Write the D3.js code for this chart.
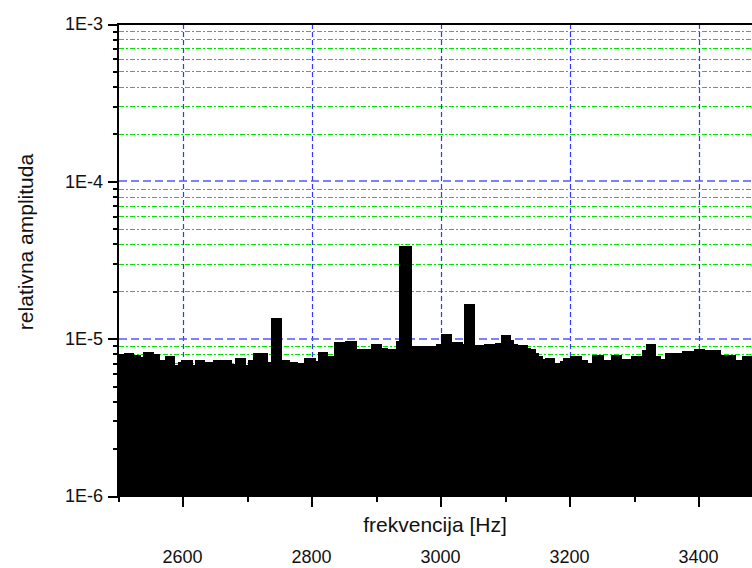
<!DOCTYPE html>
<html>
<head>
<meta charset="utf-8">
<script src="https://cdn.jsdelivr.net/npm/d3@7"></script>
<style>
  html, body { margin: 0; padding: 0; background: #fff; }
  svg { display: block; font-family: "Liberation Sans", Arial, sans-serif; }
</style>
</head>
<body>
<svg id="chart" width="752" height="568"></svg>
<script>
// ---- data ----
// start frequency of each spectrum step [Hz]; each step runs to the next start
const freqStart = [2500, 2509, 2525, 2536, 2539, 2556, 2565, 2573, 2588, 2593, 2598, 2616, 2619, 2635, 2647,
  2677, 2681, 2698, 2702, 2709, 2733, 2737, 2754, 2767, 2779, 2788, 2807, 2810, 2826, 2835, 2852, 2871,
  2892, 2909, 2919, 2931, 2936, 2956, 2993, 3001, 3018, 3035, 3036, 3053, 3067, 3084, 3094, 3109, 3114,
  3120, 3136, 3140, 3148, 3153, 3159, 3162, 3178, 3185, 3190, 3201, 3219, 3229, 3235, 3253, 3264, 3281,
  3295, 3312, 3319, 3334, 3342, 3348, 3374, 3393, 3410, 3435, 3458, 3467];
// relative amplitude of each step (×1e-5)
const amplitudeE5 = [0.803, 0.815, 0.791, 0.768, 0.827, 0.803, 0.735, 0.780, 0.684, 0.714, 0.735, 0.684, 0.735, 0.714, 0.735,
  0.694, 0.757, 0.684, 0.735, 0.815, 0.714, 1.36, 0.735, 0.714, 0.704, 0.757, 0.725, 0.827, 0.780, 0.957, 0.971, 0.864,
  0.929, 0.877, 0.864, 0.971, 3.88, 0.903, 0.929, 1.076, 0.957, 0.929, 1.67, 0.916, 0.929, 0.943, 1.060, 0.986, 0.929,
  0.916, 0.877, 0.864, 0.815, 0.780, 0.746, 0.757, 0.704, 0.725, 0.757, 0.780, 0.735, 0.704, 0.791, 0.735, 0.791, 0.746,
  0.780, 0.851, 0.929, 0.780, 0.746, 0.815, 0.839, 0.864, 0.851, 0.791, 0.735, 0.780];
const freqEnd = 3500;

const xMajorTicks = [2600, 2800, 3000, 3200, 3400];
const xMinorTicks = [2500, 2700, 2900, 3100, 3300, 3500];
const yMajorTicks = [1e-6, 1e-5, 1e-4, 1e-3];
const yMajorLabels = ["1E-6", "1E-5", "1E-4", "1E-3"];
const yMinorTicks = [];
[1e-6, 1e-5, 1e-4].forEach(d => { for (let m = 2; m <= 9; m++) yMinorTicks.push(d * m); });

const xTitle = "frekvencija [Hz]";
const yTitle = "relativna amplituda";

// ---- layout ----
const L = 118, T = 24, B = 496, R = 763;
const svg = d3.select("#chart");

const x = d3.scaleLinear().domain([2500, 3500]).range([L, R]);
const y = d3.scaleLog().domain([1e-6, 1e-3]).range([B, T]);
const py = v => Math.round(y(v)) + 0.5;
const px = v => Math.round(x(v)) + 0.5;

// ---- grid ----
const grid = svg.append("g");
grid.selectAll("line.minor").data(yMinorTicks).join("line")
  .attr("x1", L + 1).attr("x2", 752).attr("y1", d => py(d)).attr("y2", d => py(d))
  .attr("stroke", "#00e600").attr("stroke-width", 1.2).attr("stroke-dasharray", "5,2,2,2");
grid.selectAll("line.vmaj").data(xMajorTicks).join("line")
  .attr("x1", d => px(d)).attr("x2", d => px(d)).attr("y1", T).attr("y2", B)
  .attr("stroke", "#3535ff").attr("stroke-width", 1.2).attr("stroke-dasharray", "5,3");
grid.selectAll("line.hmaj").data([1e-5, 1e-4]).join("line")
  .attr("x1", L + 1).attr("x2", 752).attr("y1", d => Math.round(y(d))).attr("y2", d => Math.round(y(d)))
  .attr("stroke", "#5555ff").attr("stroke-width", 1.6).attr("stroke-dasharray", "8,4");

// ---- bars (contiguous spectrum steps) ----
const steps = freqStart.map((f, i) => ({ f, v: amplitudeE5[i] * 1e-5 }));
steps.push({ f: freqEnd, v: amplitudeE5[amplitudeE5.length - 1] * 1e-5 });
const area = d3.area()
  .x(d => x(d.f))
  .y0(y(1e-6))
  .y1(d => y(d.v))
  .curve(d3.curveStepAfter);
svg.append("path").datum(steps).attr("d", area).attr("fill", "#000").attr("shape-rendering", "crispEdges");

// ---- axes ----
const fontSize = 18;
const tickStyle = g => {
  g.select(".domain").remove();
  g.selectAll(".tick line").attr("stroke", "#000").attr("stroke-width", 2).attr("shape-rendering", "crispEdges");
};
svg.append("g").attr("transform", `translate(0,${B})`)
  .call(d3.axisBottom(x).tickValues(xMajorTicks).tickSize(11).tickFormat(""))
  .call(tickStyle);
svg.append("g").attr("transform", `translate(0,${B})`)
  .call(d3.axisBottom(x).tickValues(xMinorTicks).tickSize(6).tickFormat(""))
  .call(tickStyle);

svg.append("g").selectAll("text").data(xMajorTicks).join("text")
  .attr("x", d => x(d)).attr("y", 563)
  .attr("text-anchor", "middle").attr("font-size", fontSize).attr("fill", "#111")
  .text(d => d);

const gy = svg.append("g").attr("transform", `translate(${L},0)`)
  .call(d3.axisLeft(y).tickValues(yMajorTicks).tickSize(10).tickFormat((d, i) => yMajorLabels[i]).tickPadding(5))
  .call(tickStyle);
gy.selectAll(".tick text").attr("font-size", fontSize).attr("fill", "#111")
  .attr("font-family", "Liberation Sans, Arial, sans-serif");
svg.append("g").attr("transform", `translate(${L},0)`)
  .call(d3.axisLeft(y).tickValues(yMinorTicks).tickSize(5).tickFormat(""))
  .call(tickStyle);

// frame lines
const frame = svg.append("g").attr("stroke", "#000").attr("stroke-width", 2).attr("shape-rendering", "crispEdges");
frame.append("line").attr("x1", L).attr("x2", L).attr("y1", T - 1).attr("y2", B + 1);
frame.append("line").attr("x1", L - 1).attr("x2", 752).attr("y1", B).attr("y2", B);
frame.append("line").attr("x1", L - 1).attr("x2", 752).attr("y1", T).attr("y2", T);

// titles
svg.append("text").attr("x", 435).attr("y", 532).attr("text-anchor", "middle")
  .attr("font-size", 21).attr("fill", "#111").text(xTitle);
svg.append("text").attr("transform", "translate(33,242) rotate(-90)").attr("text-anchor", "middle")
  .attr("font-size", 21).attr("fill", "#111").text(yTitle);
</script>
</body>
</html>
